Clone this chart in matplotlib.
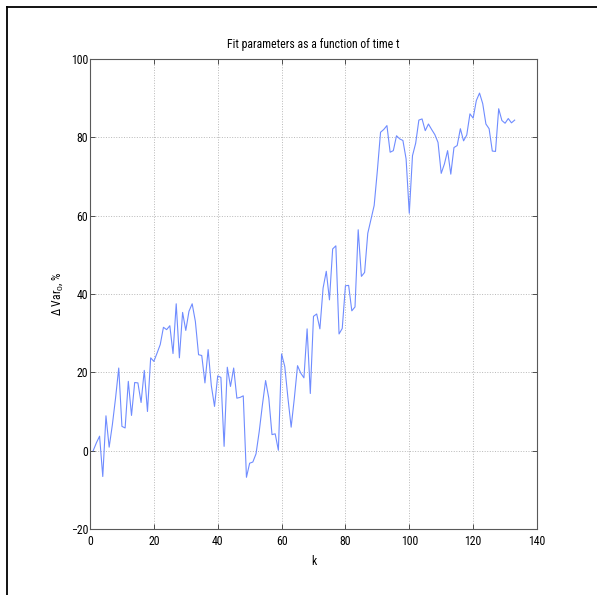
import matplotlib
matplotlib.use("Agg")
import matplotlib.pyplot as plt
from matplotlib.lines import Line2D

# data (k = 1..133)
k = list(range(1, 134))
dvar = [
    0.0, 2.0, 3.7, -6.6, 8.9, 0.9, 6.6, 13.4, 21.1, 6.2,
    5.8, 17.7, 9.0, 17.4, 17.3, 12.3, 20.5, 10.0, 23.7, 22.8,
    24.9, 27.1, 31.5, 30.9, 31.9, 24.8, 37.5, 23.7, 35.3, 30.7,
    35.6, 37.5, 33.0, 24.5, 24.3, 17.3, 25.8, 16.6, 11.3, 19.1,
    18.7, 1.1, 21.3, 16.4, 21.1, 13.4, 13.6, 14.0, -6.8, -3.2,
    -2.9, -0.8, 4.9, 11.7, 17.9, 13.4, 4.1, 4.3, 0.1, 24.7,
    21.5, 13.4, 6.0, 13.4, 21.7, 19.8, 18.6, 31.1, 14.6, 34.3,
    34.9, 31.1, 41.5, 45.8, 38.5, 51.5, 52.3, 29.8, 31.2, 42.1,
    42.2, 35.7, 36.7, 56.4, 44.5, 45.5, 55.5, 59.0, 62.6, 71.5,
    81.3, 82.0, 83.0, 76.2, 76.6, 80.4, 79.6, 79.2, 74.5, 60.6,
    75.3, 78.5, 84.4, 84.7, 81.7, 83.4, 82.0, 80.7, 78.7, 70.8,
    73.2, 76.6, 70.6, 77.4, 77.9, 82.2, 79.1, 80.6, 86.0, 84.9,
    89.4, 91.3, 88.6, 83.4, 82.2, 76.5, 76.4, 87.3, 84.3, 83.6,
    84.8, 83.7, 84.4,
]
xticks = [0, 20, 40, 60, 80, 100, 120, 140]
yticks = [-20, 0, 20, 40, 60, 80, 100]

fams = ['Roboto Condensed', 'Liberation Sans Narrow', 'Liberation Sans', 'DejaVu Sans']
plt.rcParams['font.family'] = fams
plt.rcParams['mathtext.fontset'] = 'custom'
plt.rcParams['mathtext.rm'] = 'Liberation Sans'
plt.rcParams['mathtext.it'] = 'Liberation Sans'

W, H = 597, 595
fig = plt.figure(figsize=(W / 100, H / 100), dpi=100)
ax = fig.add_axes([90 / W, 1 - 529 / H, (537 - 90) / W, (529 - 59) / H])

ax.plot(k, dvar, color='#6f8cff', lw=0.8)

ax.set_xlim(0, 140)
ax.set_ylim(-20, 100)
ax.set_xticks(xticks)
ax.set_yticks(yticks)
ax.grid(True, linestyle=':', color='0.72', lw=0.7)
ax.tick_params(direction='in', top=True, right=True, length=3.5, width=0.7,
               color='0.3', labelsize=8.5)
ax.tick_params(axis='x', pad=4.5)
ax.tick_params(axis='y', pad=1.5)
for s in ax.spines.values():
    s.set_color('0.35')
    s.set_linewidth(0.8)

ax.set_title('Fit parameters as a function of time t', fontsize=8.5, pad=8)
ax.set_xlabel('k', fontsize=8.5, labelpad=5)
ax.set_ylabel('Δ Var$_0$, %', fontsize=8.5, labelpad=4)

# outer frame (left and top edges visible)
fig.add_artist(Line2D([7 / W, 7 / W], [0, 1 - 7 / H], transform=fig.transFigure,
                      color='black', lw=1.3))
fig.add_artist(Line2D([7 / W, 1], [1 - 7 / H, 1 - 7 / H], transform=fig.transFigure,
                      color='black', lw=1.3))

fig.savefig('out.png', dpi=100, facecolor='white')
